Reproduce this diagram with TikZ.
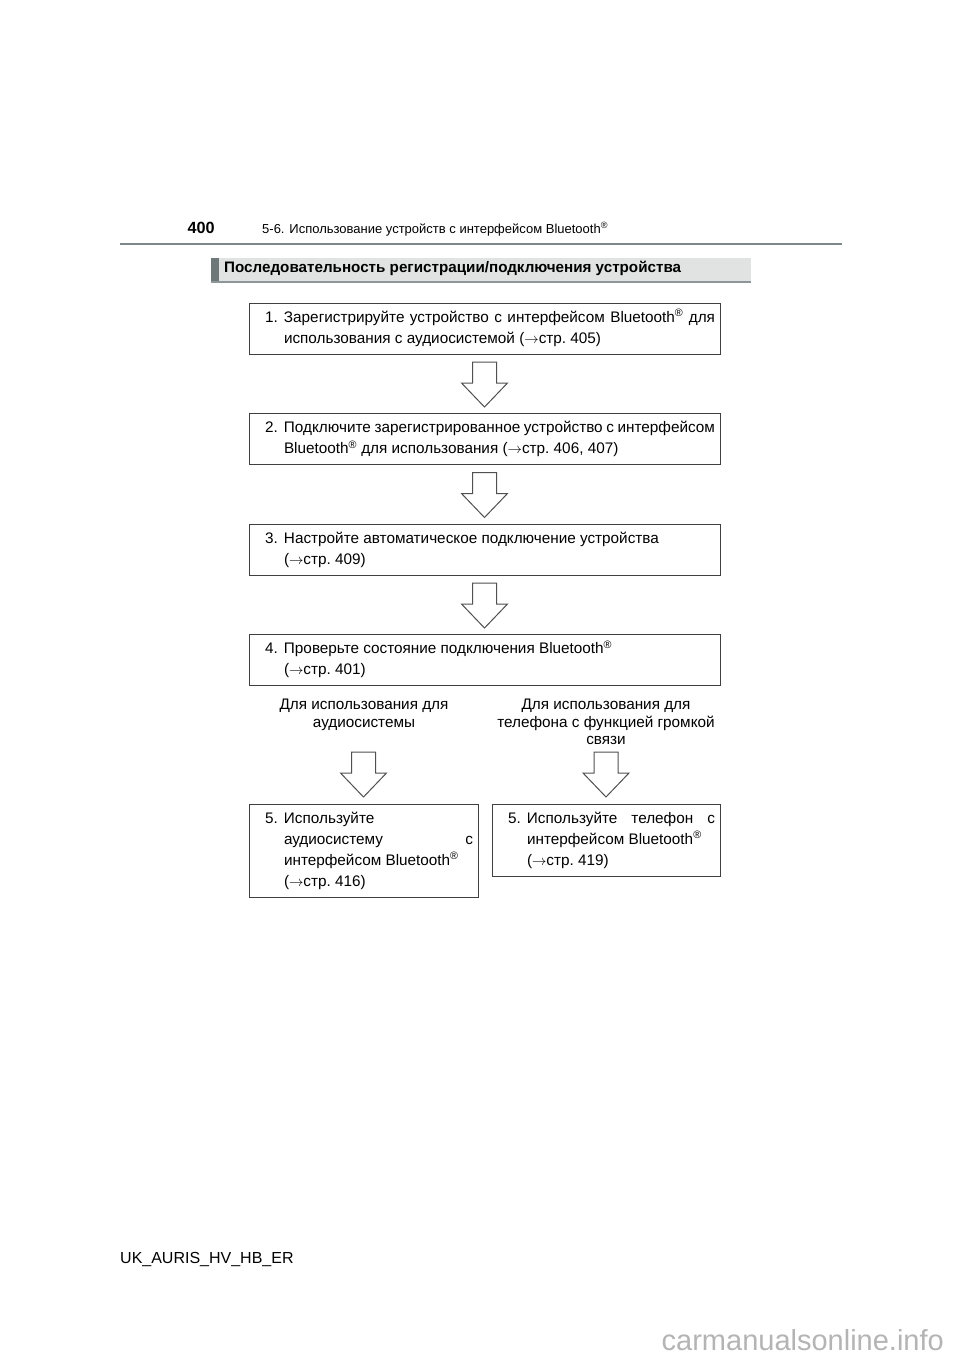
\documentclass[tikz,border=0pt]{standalone}
\usepackage{fontspec}
\setmainfont{Liberation Sans}
\usetikzlibrary{positioning}

\definecolor{rulegray}{HTML}{7D8888}
\definecolor{barfill}{HTML}{E1E3E3}
\definecolor{bardark}{HTML}{6E7878}
\definecolor{barline}{HTML}{8E9797}
\definecolor{boxline}{HTML}{404040}
\definecolor{arrowline}{HTML}{505050}
\definecolor{wmgray}{HTML}{B4B4B4}

\newcommand\stepfont{\fontsize{15.3}{21}\selectfont}
\newcommand\hintfont{\fontsize{15.3}{17.5}\selectfont}
% numbered step text: hanging indent after the number
\newcommand\stepbody[3][471pt]{\parbox{#1}{\leftskip=16pt\rightskip=5pt%
    \hangindent=19pt\hangafter=1\noindent\strut\makebox[19pt][l]{#2.}#3\strut}}
\newcommand\regm{\textsuperscript{®}}
\newcommand\ra{\ensuremath{\rightarrow}}

\begin{document}
\begin{tikzpicture}[x=1pt, y=-1pt,
node distance=59.5pt,
 stepbox/.style = {rectangle, draw=boxline, line width=1pt,% frame of one step
                inner xsep=0pt, inner ysep=4.5pt, outer sep=0pt,
                font=\stepfont},
    hint/.style = {inner sep=0pt, align=center, font=\hintfont},% texts over the split
    flow/.pic = {\draw[arrowline, line width=1pt, fill=white]% hollow down arrow
                (-12,0) -- (12,0) -- (12,21) -- (23,21) -- (0,45)
                -- (-23,21) -- (-12,21) -- cycle;},
                        ]
\useasboundingbox (0,0) rectangle (960,1358);
% page head
\node[anchor=base west, inner sep=0pt, font=\fontsize{16.2}{19}\selectfont\bfseries] (pgno) at (187.5,233) {400};
\node[anchor=base west, inner sep=0pt, font=\fontsize{13}{15}\selectfont] (chap) at (262,233)
    {5-6. Использование устройств с интерфейсом Bluetooth\regm};
\draw[rulegray, line width=2.4pt] (120,244) -- (842,244);
\fill[barfill] (211,258) rectangle (751,282);
\fill[bardark] (211,258) rectangle (219,282);
\draw[barline, line width=1.2pt] (211,282) -- (751,282);
\node[anchor=base west, inner sep=0pt, font=\fontsize{15.2}{17}\selectfont\bfseries] (title) at (224,272.5)
    {Последовательность регистрации/подключения устройства};
% steps
\node[stepbox, anchor=north west] (s1) at (249,303)
    {\stepbody{1}{Зарегистрируйте устройство с интерфейсом Bluetooth\regm{} для\linebreak
     использования с аудиосистемой (\ra{}стр.~405)}};
\node[stepbox, below=of s1] (s2)
    {\stepbody{2}{Подключите зарегистрированное устройство с интерфейсом\linebreak
     Bluetooth\regm{} для использования (\ra{}стр.~406, 407)}};
\node[stepbox, below=of s2] (s3)
    {\stepbody{3}{Настройте автоматическое подключение устройства\newline
     (\ra{}стр.~409)}};
\node[stepbox, below=of s3] (s4)
    {\stepbody{4}{Проверьте состояние подключения Bluetooth\regm\newline
     (\ra{}стр.~401)}};
\foreach \a in {s1,s2,s3}
    \path (\a.south) ++(0,8) pic {flow};
% split
\node[hint, anchor=north] (h1) at (364,699) {Для использования для\\аудиосистемы};
\node[hint, anchor=north] (h2) at (606,699) {Для использования для\\телефона с функцией громкой\\связи};
\node[stepbox, anchor=north west] (s5a) at (249,804)
    {\stepbody[229pt]{5}{Используйте\newline аудиосистему с\linebreak
     интерфейсом Bluetooth\regm\newline (\ra{}стр.~416)}};
\node[stepbox, anchor=north west] (s5b) at (492,804)
    {\stepbody[228pt]{5}{Используйте телефон с\linebreak
     интерфейсом Bluetooth\regm\newline (\ra{}стр.~419)}};
\foreach \a in {s5a,s5b}
    \path (\a.north) ++(0,-52) pic {flow};
% page foot
\node[anchor=base west, inner sep=0pt, font=\fontsize{16}{18}\selectfont] (code) at (120,1263) {UK\_AURIS\_HV\_HB\_ER};
\node[anchor=base east, inner sep=0pt, text=wmgray, font=\fontsize{29}{33}\selectfont] (site) at (944,1350) {carmanualsonline.info};
\end{tikzpicture}
\end{document}
